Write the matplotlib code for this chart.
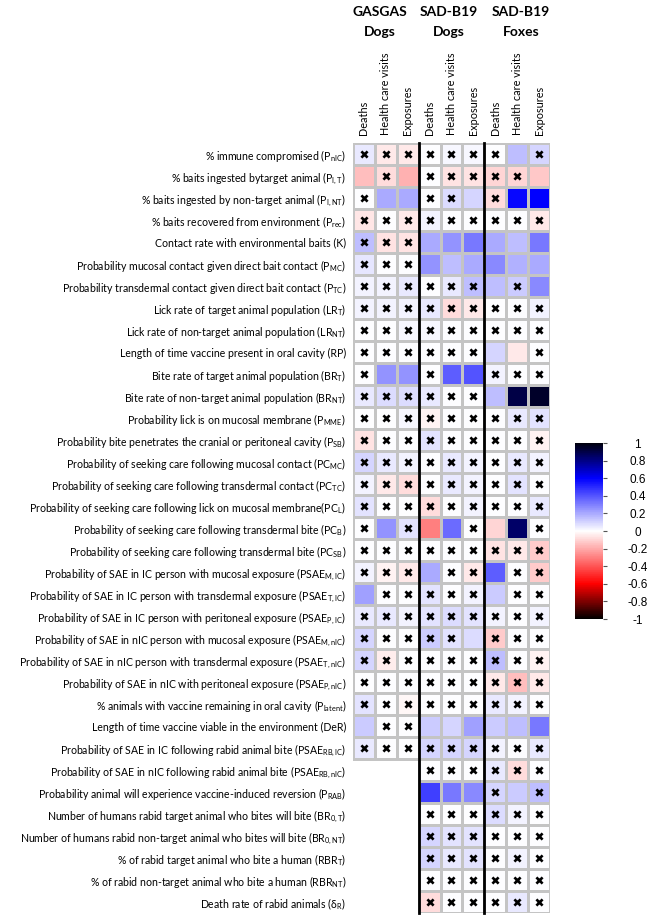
import numpy as np
import matplotlib
matplotlib.use("Agg")
import matplotlib.pyplot as plt
from matplotlib.colors import LinearSegmentedColormap

plt.rcParams["font.family"] = ["Lato", "DejaVu Sans"]
plt.rcParams["mathtext.fontset"] = "custom"
plt.rcParams["mathtext.rm"] = "Lato"
plt.rcParams["mathtext.it"] = "Lato:italic"
plt.rcParams["mathtext.bf"] = "Lato:bold"
plt.rcParams["mathtext.default"] = "regular"

row_labels = [
    r"% immune compromised (P$_{nIC}$)",
    r"% baits ingested bytarget animal (P$_{I,T}$)",
    r"% baits ingested by non-target animal (P$_{I,NT}$)",
    r"% baits recovered from environment (P$_{rec}$)",
    r"Contact rate with environmental baits (K)",
    r"Probability mucosal contact given direct bait contact (P$_{MC}$)",
    r"Probability transdermal contact given direct bait contact (P$_{TC}$)",
    r"Lick rate of target animal population (LR$_{T}$)",
    r"Lick rate of non-target animal population (LR$_{NT}$)",
    r"Length of time vaccine present in oral cavity (RP)",
    r"Bite rate of target animal population (BR$_{T}$)",
    r"Bite rate of non-target animal population (BR$_{NT}$)",
    r"Probability lick is on mucosal membrane (P$_{MME}$)",
    r"Probability bite penetrates the cranial or peritoneal cavity (P$_{SB}$)",
    r"Probability of seeking care following mucosal contact (PC$_{MC}$)",
    r"Probability of seeking care following transdermal contact (PC$_{TC}$)",
    r"Probability of seeking care following lick on mucosal membrane(PC$_{L}$)",
    r"Probability of seeking care following transdermal bite (PC$_{B}$)",
    r"Probability of seeking care following transdermal bite (PC$_{SB}$)",
    r"Probability of SAE in IC person with mucosal exposure (PSAE$_{M,IC}$)",
    r"Probability of SAE in IC person with transdermal exposure (PSAE$_{T,IC}$)",
    r"Probability of SAE in IC person with peritoneal exposure (PSAE$_{P,IC}$)",
    r"Probability of SAE in nIC person with mucosal exposure (PSAE$_{M,nIC}$)",
    r"Probability of SAE in nIC person with transdermal exposure (PSAE$_{T,nIC}$)",
    r"Probability of SAE in nIC with peritoneal exposure (PSAE$_{P,nIC}$)",
    r"% animals with vaccine remaining in oral cavity (P$_{latent}$)",
    r"Length of time vaccine viable in the environment (DeR)",
    r"Probability of SAE in IC following rabid animal bite (PSAE$_{RB,IC}$)",
    r"Probability of SAE in nIC following rabid animal bite (PSAE$_{RB,nIC}$)",
    r"Probability animal will experience vaccine-induced reversion (P$_{RAB}$)",
    r"Number of humans rabid target animal who bites will bite (BR$_{0,T}$)",
    r"Number of humans rabid non-target animal who bites will bite (BR$_{0,NT}$)",
    r"% of rabid target animal who bite a human (RBR$_{T}$)",
    r"% of rabid non-target animal who bite a human (RBR$_{NT}$)",
    r"Death rate of rabid animals ($\delta_{R}$)",
]

group_names = ["GASGAS\nDogs", "SAD-B19\nDogs", "SAD-B19\nFoxes"]
outcomes = ["Deaths", "Health care visits", "Exposures"]
cbar_ticks = [-1, -0.8, -0.6, -0.4, -0.2, 0, 0.2, 0.4, 0.6, 0.8, 1]

N = None
# correlation values, one list per column (rows top to bottom)
gasgas_deaths = [0.05, -0.15, 0, -0.06, 0.15, 0.06, 0.03, 0.03, 0, 0, 0, 0.05, 0, -0.07,
                 0.1, 0.03, 0.07, 0, 0, 0.03, 0.22, 0.05, 0.1, 0.1, 0, 0.07, 0.12, 0.05,
                 N, N, N, N, N, N, N]
gasgas_visits = [-0.05, -0.08, 0.2, 0, -0.07, 0, 0.03, 0.03, 0, 0, 0.25, 0.08, 0, 0,
                 0.05, -0.05, 0, 0.25, 0, -0.03, 0, 0.05, 0, -0.04, 0, 0, 0, 0,
                 N, N, N, N, N, N, N]
gasgas_exposures = [-0.05, -0.18, 0.2, -0.05, -0.07, 0, 0.05, 0.03, 0.02, 0, 0.25, 0.08, 0.02, 0,
                    0.03, -0.08, 0, 0.07, 0, -0.05, 0, 0.03, 0, 0, 0, -0.02, 0, 0,
                    N, N, N, N, N, N, N]
sad_dogs_deaths = [0, 0, 0, 0.03, 0.2, 0.25, 0, 0.05, 0.02, 0, 0, 0.05, -0.03, 0.07,
                   0, 0, -0.08, -0.3, 0, 0.2, 0.07, 0.07, 0.12, 0, 0, 0, 0.12, 0.1,
                   0, 0.45, 0, 0.1, 0.1, 0, -0.08]
sad_dogs_visits = [0.02, -0.07, 0.08, 0, 0.25, 0.15, 0.05, -0.08, 0, 0, 0.38, 0, 0, 0,
                   0.05, 0.05, 0, 0.35, 0, 0, 0, 0.08, 0.07, 0, 0, 0, 0.1, 0.1,
                   0, 0.32, 0, 0.07, 0.05, 0, 0]
sad_dogs_exposures = [0.02, -0.07, 0.1, 0, 0.32, 0.2, 0.15, -0.05, 0, 0, 0.4, 0, 0, 0,
                      0.03, 0.03, 0.03, 0, 0, -0.05, 0.03, 0.07, 0.08, 0, 0, 0, 0.22, 0.1,
                      0, 0.28, 0, 0.07, 0.07, 0, 0]
sad_foxes_deaths = [0, -0.1, -0.08, 0, 0.2, 0.28, 0.15, 0, 0, 0.1, 0.03, 0.15, 0, 0,
                    0, 0, 0, -0.1, -0.07, 0.38, 0.12, 0.03, -0.12, 0.15, -0.05, 0.05, 0.12, 0.03,
                    0.05, 0.1, 0.08, 0, 0, 0, 0]
sad_foxes_visits = [0.15, -0.1, 0.58, 0, 0.15, 0.18, 0.12, 0, 0, -0.05, 0, 0.9, 0.05, 0,
                    0.05, 0.07, 0, 0.85, -0.05, 0, 0, 0, 0, 0, -0.15, 0.03, 0.15, 0,
                    -0.08, 0.12, 0.03, 0, 0.03, 0, 0.05]
sad_foxes_exposures = [0.1, -0.13, 0.6, -0.05, 0.32, 0.2, 0.28, 0.03, 0, 0, 0, 0.95, 0.07, -0.03,
                       0.03, 0, 0.05, 0, -0.12, -0.12, 0, 0.03, 0, -0.03, -0.05, 0, 0.32, 0.05,
                       0, 0.15, 0, 0, 0, 0, 0]

# 1 = cross shown in the cell
gasgas_deaths_x = [1, 0, 1, 1, 1, 1, 1, 1, 1, 1, 1, 1, 1, 1, 1, 1, 1, 1, 1, 1, 0, 1, 1, 1, 1, 1, 0, 1,
                   0, 0, 0, 0, 0, 0, 0]
gasgas_visits_x = [1, 1, 0, 1, 1, 1, 1, 1, 1, 1, 0, 1, 1, 1, 1, 1, 1, 0, 1, 1, 1, 1, 1, 1, 1, 1, 1, 1,
                   0, 0, 0, 0, 0, 0, 0]
gasgas_exposures_x = [1, 0, 0, 1, 1, 1, 1, 1, 1, 1, 0, 1, 1, 1, 1, 1, 1, 1, 1, 1, 1, 1, 1, 1, 1, 1, 1, 1,
                      0, 0, 0, 0, 0, 0, 0]
sad_dogs_deaths_x = [1, 1, 1, 1, 0, 0, 1, 1, 1, 1, 1, 1, 1, 1, 1, 1, 1, 0, 1, 0, 1, 1, 1, 1, 1, 1, 0, 1,
                     1, 0, 1, 1, 1, 1, 1]
sad_dogs_visits_x = [1, 1, 1, 1, 0, 0, 1, 1, 1, 1, 0, 1, 1, 1, 1, 1, 1, 0, 1, 1, 1, 1, 1, 1, 1, 1, 0, 1,
                     1, 0, 1, 1, 1, 1, 1]
sad_dogs_exposures_x = [1, 1, 0, 1, 0, 0, 1, 1, 1, 1, 0, 1, 1, 1, 1, 1, 1, 1, 1, 1, 1, 1, 0, 1, 1, 1, 0, 1,
                        1, 0, 1, 1, 1, 1, 1]
sad_foxes_deaths_x = [1, 1, 1, 1, 0, 0, 0, 1, 1, 0, 1, 0, 1, 1, 1, 1, 1, 0, 1, 0, 0, 1, 1, 1, 1, 1, 0, 1,
                      1, 1, 1, 1, 1, 1, 1]
sad_foxes_visits_x = [0, 1, 0, 1, 0, 0, 1, 1, 1, 0, 1, 0, 1, 1, 1, 1, 1, 0, 1, 1, 1, 1, 1, 1, 1, 1, 0, 1,
                      1, 0, 1, 1, 1, 1, 1]
sad_foxes_exposures_x = [1, 0, 0, 1, 0, 0, 0, 1, 1, 1, 1, 0, 1, 1, 1, 1, 1, 1, 1, 1, 1, 1, 1, 1, 1, 1, 0, 1,
                         1, 1, 1, 1, 1, 1, 1]

columns = [gasgas_deaths, gasgas_visits, gasgas_exposures,
           sad_dogs_deaths, sad_dogs_visits, sad_dogs_exposures,
           sad_foxes_deaths, sad_foxes_visits, sad_foxes_exposures]
marks = [gasgas_deaths_x, gasgas_visits_x, gasgas_exposures_x,
         sad_dogs_deaths_x, sad_dogs_visits_x, sad_dogs_exposures_x,
         sad_foxes_deaths_x, sad_foxes_visits_x, sad_foxes_exposures_x]

data = np.array([[np.nan if v is None else v for v in c] for c in columns], dtype=float).T
xmask = np.array(marks).T
nrows, ncols = data.shape

cmap = LinearSegmentedColormap.from_list(
    "bwr_dark",
    [(0.0, (0, 0, 0)), (0.2, (1, 0, 0)), (0.5, (1, 1, 1)),
     (0.8, (0, 0, 1)), (1.0, (0, 0, 0.05))])

W, H = 651, 918
fig = plt.figure(figsize=(W / 100, H / 100), dpi=100)
ax = fig.add_axes([353 / W, 1 - 913 / H, 197 / W, 770 / H])

# draw each column as its own mesh so that empty cells get no grid
mesh = None
for j in range(ncols):
    col = data[:, j]
    valid = np.nonzero(~np.isnan(col))[0]
    r0, r1 = valid.min(), valid.max() + 1
    m = ax.pcolormesh([j, j + 1], np.arange(r0, r1 + 1), col[r0:r1].reshape(-1, 1),
                      cmap=cmap, vmin=-1, vmax=1, edgecolors="#c4c4c4", linewidth=0.8)
    if mesh is None:
        mesh = m
ax.set_xlim(0, ncols)
ax.set_ylim(nrows, 0)

yy, xx = np.nonzero(xmask)
ax.scatter(xx + 0.5, yy + 0.5, marker="x", s=20, linewidths=1.9, color="black", zorder=3)

for b in (3, 6):
    ax.plot([b, b], [0, nrows], color="black", lw=2, zorder=4, clip_on=False)

for s in ax.spines.values():
    s.set_visible(False)

ax.set_yticks(np.arange(nrows) + 0.5)
ax.set_yticklabels(row_labels, fontsize=7.6)
ax.tick_params(axis="y", length=0, pad=5)
ax.xaxis.tick_top()
ax.set_xticks(np.arange(ncols) + 0.5)
ax.set_xticklabels(outcomes * 3, rotation=90, fontsize=7.8)
ax.tick_params(axis="x", length=0, pad=6)

header_x = [380, 449, 521]
for hx, name in zip(header_x, group_names):
    l1, l2 = name.split("\n")
    fig.text(hx / W, 1 - 12 / H, l1, ha="center", va="center", fontsize=10, fontweight="bold")
    fig.text(hx / W, 1 - 32 / H, l2, ha="center", va="center", fontsize=10, fontweight="bold")

cax = fig.add_axes([575 / W, 1 - 619 / H, 28 / W, 176 / H])
cb = fig.colorbar(mesh, cax=cax, ticks=cbar_ticks)
cb.outline.set_visible(False)
cb.ax.set_yticklabels([("%g" % t) for t in cbar_ticks], fontsize=8.5,
                      family="Liberation Sans", ha="center")
cb.ax.tick_params(axis="y", length=3, width=0.8, color="#555555", pad=22)

fig.savefig("out.png", dpi=100)
